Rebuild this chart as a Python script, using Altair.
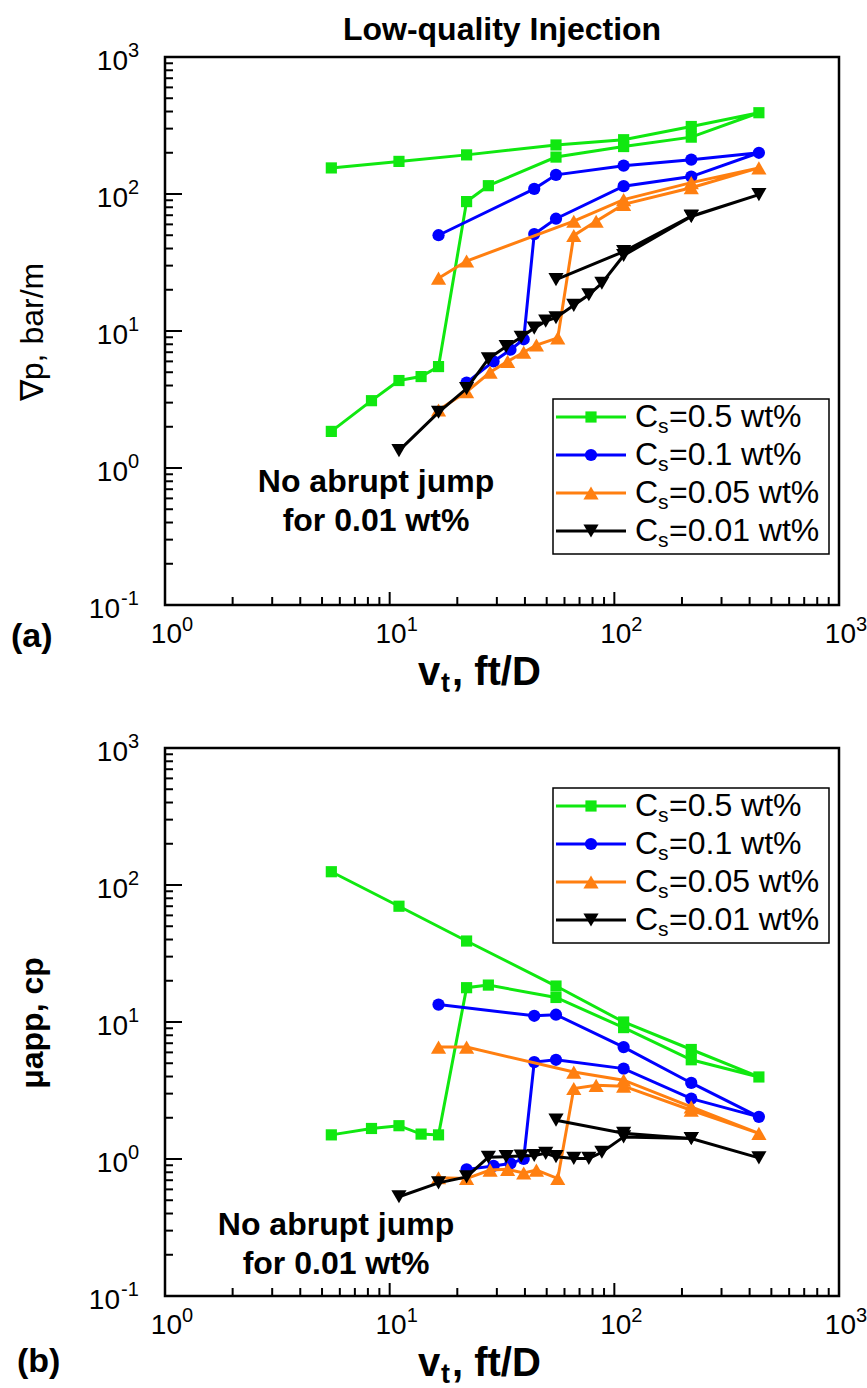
import altair as alt
import pandas as pd

# ---------------- data ----------------
labels = ["0.5", "0.1", "0.05", "0.01"]
colors = ["#10e810", "#0000ff", "#ff7f10", "#000000"]
shapes = ["square", "circle", "triangle-up", "triangle-down"]
msizes = [125, 150, 230, 230]

# Cs = 0.5 wt%  (path order: increasing-velocity sweep, then decreasing sweep)
v_05 = [5.5, 8.3, 11, 13.8, 16.5, 22, 27.5, 55, 110, 220, 440, 220, 110, 55, 22, 11, 5.5]
dp_05 = [1.85, 3.1, 4.35, 4.65, 5.5, 88, 115, 186, 222, 260, 392, 311, 249, 228, 193, 173, 155]
mu_05 = [1.50, 1.67, 1.75, 1.52, 1.50, 17.8, 18.6, 15.1, 9.1, 5.3, 3.97, 6.3, 10.0, 18.3, 39, 70, 125]

# Cs = 0.1 wt%
v_01 = [22, 29, 34.5, 39.5, 44, 55, 110, 220, 440, 220, 110, 55, 44, 16.5]
dp_01 = [4.2, 6.0, 7.3, 8.7, 51, 66, 114, 134, 200, 178, 161, 138, 109, 50]
mu_01 = [0.84, 0.89, 0.93, 1.0, 5.1, 5.3, 4.57, 2.76, 2.03, 3.59, 6.56, 11.3, 11.1, 13.4]

# Cs = 0.05 wt%
v_005 = [16.5, 22, 28, 33.5, 39.5, 45, 56, 66, 83, 110, 220, 440, 220, 110, 66, 22, 16.5]
dp_005 = [2.65, 3.6, 5.0, 6.0, 7.0, 7.9, 8.9, 49.8, 63.3, 84, 111, 155, 121, 91, 63.3, 32.4, 24.3]
mu_005 = [0.73, 0.72, 0.83, 0.84, 0.79, 0.83, 0.72, 3.27, 3.45, 3.4, 2.27, 1.54, 2.4, 3.76, 4.31, 6.56, 6.56]

# Cs = 0.01 wt%
v_001 = [11, 16.5, 22, 27.5, 33, 38.5, 44, 49.5, 55, 66, 77, 88, 110, 220, 440, 220, 110, 55]
dp_001 = [1.34, 2.55, 3.8, 6.26, 7.7, 9.0, 10.5, 11.8, 12.5, 15.4, 18.4, 22.3, 35.6, 68.5, 99, 69, 38, 23.7]
mu_001 = [0.53, 0.67, 0.74, 1.03, 1.04, 1.05, 1.06, 1.10, 1.04, 1.01, 1.01, 1.12, 1.45, 1.41, 1.02, 1.41, 1.54, 1.92]

x_decades = [1, 10, 100, 1000]
x_exps = ["0", "1", "2", "3"]
y_decades = [0.1, 1, 10, 100, 1000]
y_exps = ["-1", "0", "1", "2", "3"]
mantissas = [2, 3, 4, 5, 6, 7, 8, 9]

# ---------------- layout ----------------
W = 674
PH = 548
FONT = "Liberation Sans"

xsc = alt.Scale(type="log", domain=[1, 1000], nice=False)


def ysc(y0):
    return alt.Scale(type="log", domain=[0.1, 1000], range=[y0 + PH, y0], nice=False)


one = pd.DataFrame({"k": [0]})


def txt(t, x, y, size, weight="normal", align="left", baseline="middle", angle=0):
    kw = dict(text=t, font=FONT, fontSize=size, fontWeight=weight, align=align,
              baseline=baseline, color="black")
    if angle:
        kw["angle"] = angle
    return alt.Chart(one).mark_text(**kw).encode(x=alt.value(x), y=alt.value(y))


def panel(y0, yvals, ytitle, ytitle_weight, letter, letter_x, letter_y, leg_top, note_cx, note_cy,
          title=None):
    ys = ysc(y0)
    X = alt.X("v:Q", scale=xsc, axis=None)
    Y = alt.Y("val:Q", scale=ys, axis=None)
    L = []
    # ticks (inward)
    y_minor = pd.DataFrame({"val": [m * d for d in y_decades[:-1] for m in mantissas]})
    y_major = pd.DataFrame({"val": y_decades})
    x_minor = pd.DataFrame({"v": [m * d for d in x_decades[:-1] for m in mantissas]})
    x_major = pd.DataFrame({"v": x_decades})
    L.append(alt.Chart(y_minor).mark_rule(color="black", strokeWidth=2).encode(
        y=Y, x=alt.value(0), x2=alt.value(8)))
    L.append(alt.Chart(y_major).mark_rule(color="black", strokeWidth=2).encode(
        y=Y, x=alt.value(0), x2=alt.value(17)))
    L.append(alt.Chart(x_minor).mark_rule(color="black", strokeWidth=2).encode(
        x=X, y=alt.value(y0 + PH), y2=alt.value(y0 + PH - 8)))
    L.append(alt.Chart(x_major).mark_rule(color="black", strokeWidth=2).encode(
        x=X, y=alt.value(y0 + PH), y2=alt.value(y0 + PH - 13)))
    # series
    vs = [v_05, v_01, v_005, v_001]
    for i in range(4):
        df = pd.DataFrame({"v": vs[i], "val": yvals[i], "order": list(range(len(vs[i])))})
        L.append(alt.Chart(df).mark_line(color=colors[i], strokeWidth=3).encode(
            x=X, y=Y, order=alt.Order("order:Q")))
        L.append(alt.Chart(df).mark_point(filled=True, shape=shapes[i], size=msizes[i],
                                          color=colors[i], opacity=1).encode(x=X, y=Y))
    # frame
    L.append(alt.Chart(one).mark_rect(fillOpacity=0, stroke="black", strokeWidth=2.5).encode(
        x=alt.value(0), x2=alt.value(W), y=alt.value(y0), y2=alt.value(y0 + PH)))
    # y tick labels
    ylab = pd.DataFrame({"val": y_decades, "e": y_exps})
    pos = ylab[~ylab["e"].str.startswith("-")]
    neg = ylab[ylab["e"].str.startswith("-")]
    L.append(alt.Chart(pos).mark_text(text="10", font=FONT, fontSize=28, align="right",
                                      baseline="middle", dy=5).encode(y=Y, x=alt.value(-37)))
    L.append(alt.Chart(pos).mark_text(font=FONT, fontSize=20, align="left",
                                      baseline="middle", dy=-6).encode(y=Y, x=alt.value(-37), text="e:N"))
    L.append(alt.Chart(neg).mark_text(text="10", font=FONT, fontSize=28, align="right",
                                      baseline="middle", dy=5).encode(y=Y, x=alt.value(-45)))
    L.append(alt.Chart(neg).mark_text(font=FONT, fontSize=20, align="left",
                                      baseline="middle", dy=-6).encode(y=Y, x=alt.value(-44), text="e:N"))
    # x tick labels
    xlab = pd.DataFrame({"v": x_decades, "e": x_exps})
    L.append(alt.Chart(xlab).mark_text(text="10", font=FONT, fontSize=28, align="right",
                                       baseline="middle", dx=17).encode(x=X, y=alt.value(y0 + PH + 30)))
    L.append(alt.Chart(xlab).mark_text(font=FONT, fontSize=20, align="left",
                                       baseline="middle", dx=17).encode(x=X, y=alt.value(y0 + PH + 20), text="e:N"))
    # axis titles
    L.append(txt(ytitle, -132, y0 + 275, 32, ytitle_weight, "center", "middle", 270))
    L.append(txt("v", 253, y0 + PH + 80, 40, "bold", "left", "alphabetic"))
    L.append(txt("t", 276, y0 + PH + 87, 27, "bold", "left", "alphabetic"))
    L.append(txt(", ft/D", 287, y0 + PH + 80, 40, "bold", "left", "alphabetic"))
    L.append(txt(letter, letter_x, letter_y, 34, "bold", "left", "middle"))
    if title:
        L.append(txt(title, W / 2, -27, 32, "bold", "center", "middle"))
    # annotation
    L.append(txt("No abrupt jump", note_cx, note_cy, 32, "bold", "center", "middle"))
    L.append(txt("for 0.01 wt%", note_cx, note_cy + 39, 32, "bold", "center", "middle"))
    # legend
    L.append(alt.Chart(one).mark_rect(fill="white", stroke="black", strokeWidth=1.5).encode(
        x=alt.value(388), x2=alt.value(664), y=alt.value(leg_top), y2=alt.value(leg_top + 155)))
    for i in range(4):
        ly = leg_top + 18 + i * 38
        L.append(alt.Chart(one).mark_rule(color=colors[i], strokeWidth=3).encode(
            x=alt.value(391), x2=alt.value(461), y=alt.value(ly)))
        L.append(alt.Chart(one).mark_point(filled=True, shape=shapes[i], size=msizes[i],
                                           color=colors[i], opacity=1).encode(
            x=alt.value(426), y=alt.value(ly)))
        L.append(txt("C", 470, ly, 32))
        L.append(txt("s", 493, ly + 10, 21))
        L.append(txt("=" + labels[i] + " wt%", 504, ly, 32))
    return alt.layer(*L)


top = panel(0, [dp_05, dp_01, dp_005, dp_001], "\u2207p, bar/m", "normal", "(a)", -154, 580,
            342, 211, 425, title="Low-quality Injection")
bottom = panel(691, [mu_05, mu_01, mu_005, mu_001], "\u03bcapp, cp", "bold", "(b)", -148, 691 + 614,
               731, 171, 691 + 477)

chart = alt.layer(top, bottom).resolve_scale(y="independent").properties(
    width=W, height=1239,
    padding={"left": 165, "top": 57, "right": 28, "bottom": 92},
    autosize=alt.AutoSizeParams(type="none"),
    background="white",
).configure_view(stroke="transparent")

chart.save("out.html", embed_options={"renderer": "svg", "actions": False})
